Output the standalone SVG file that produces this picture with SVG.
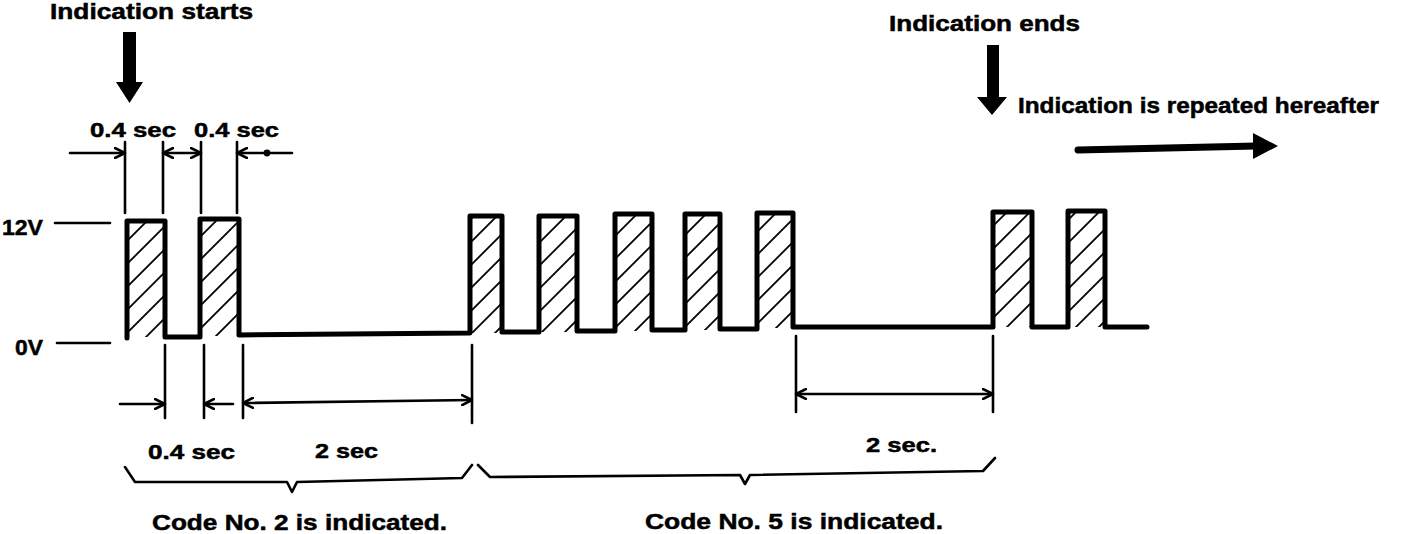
<svg xmlns="http://www.w3.org/2000/svg" width="1408" height="534" viewBox="0 0 1408 534">
<style>
text{font-family:"Liberation Sans",Arial,sans-serif;font-weight:bold;fill:#000;stroke:#000;stroke-width:0.5;}
.lbl{font-size:22px;}
.sm{font-size:20.5px;}
.wave{fill:none;stroke:#000;stroke-width:5;stroke-linejoin:round;stroke-linecap:round;}
.thin{fill:none;stroke:#000;stroke-width:2.6;stroke-linecap:round;}
.dim{fill:none;stroke:#000;stroke-width:2.6;stroke-linecap:round;stroke-linejoin:round;}
.hat{fill:url(#hatch);stroke:none;}
</style>
<defs>
<pattern id="hatch" patternUnits="userSpaceOnUse" width="23" height="23">
<path d="M-2,25 L25,-2 M-13.5,13.5 L13.5,-13.5 M9.5,36.5 L36.5,9.5" stroke="#000" stroke-width="1.8"/>
</pattern>
<marker id="oa" viewBox="0 0 12 12" refX="11" refY="6" markerWidth="12" markerHeight="12" markerUnits="userSpaceOnUse" orient="auto-start-reverse">
<path d="M0,0.5 L11,6 L0,11.5" fill="none" stroke="#000" stroke-width="2.6"/>
</marker>
</defs>

<g id="title-start">
<text class="lbl" x="50" y="19" textLength="203" lengthAdjust="spacingAndGlyphs">Indication starts</text>
<polygon points="123,32 136,32 136,82 143,82 129.5,103 116,82 123,82" fill="#000"/>
</g>

<g id="title-end">
<text class="lbl" x="889" y="31" textLength="191" lengthAdjust="spacingAndGlyphs">Indication ends</text>
<polygon points="987,45 999,45 999,97 1007,97 992,115 977,97 987,97" fill="#000"/>
</g>

<g id="repeat">
<text class="lbl" x="1018" y="113" textLength="361" lengthAdjust="spacingAndGlyphs">Indication is repeated hereafter</text>
<path d="M1078,150 L1256,146" stroke="#000" stroke-width="7" stroke-linecap="round" fill="none"/>
<polygon points="1253,133 1278,146 1253,159" fill="#000"/>
</g>

<g id="levels">
<text class="lbl" x="2" y="235" textLength="41" lengthAdjust="spacingAndGlyphs">12V</text>
<line class="thin" x1="55" y1="223" x2="110" y2="223"/>
<text class="lbl" x="15" y="355" textLength="28" lengthAdjust="spacingAndGlyphs">0V</text>
<line class="thin" x1="57" y1="343" x2="110" y2="343"/>
</g>

<g id="pulses">
<rect class="hat" x="127" y="221" width="38" height="116"/>
<rect class="hat" x="200" y="219" width="39" height="117"/>
<rect class="hat" x="470" y="216" width="32" height="117"/>
<rect class="hat" x="539" y="216" width="38" height="116"/>
<rect class="hat" x="615" y="214" width="37" height="117"/>
<rect class="hat" x="685" y="214" width="35" height="116"/>
<rect class="hat" x="757" y="213" width="36" height="115"/>
<rect class="hat" x="993" y="212" width="39" height="115"/>
<rect class="hat" x="1068" y="211" width="37" height="116"/>
<path class="wave" d="M127,338 L127,221 L165,221 L165,337 L200,337 L200,219 L239,219 L239,335 L470,333 L470,216 L502,216 L502,332 L539,332 L539,216 L577,216 L577,331 L615,331 L615,214 L652,214 L652,330 L685,330 L685,214 L720,214 L720,329 L757,329 L757,213 L793,213 L793,327 L993,327 L993,212 L1032,212 L1032,327 L1068,327 L1068,211 L1105,211 L1105,327 L1147,327"/>
</g>

<g id="top-dimensions">
<line class="thin" x1="125" y1="142" x2="125" y2="213"/>
<line class="thin" x1="163" y1="142" x2="163" y2="213"/>
<line class="thin" x1="201" y1="142" x2="201" y2="213"/>
<line class="thin" x1="237" y1="142" x2="237" y2="213"/>
<text class="sm" x="90" y="137" textLength="86" lengthAdjust="spacingAndGlyphs">0.4 sec</text>
<text class="sm" x="194" y="137" textLength="85" lengthAdjust="spacingAndGlyphs">0.4 sec</text>
</g>

<g id="bottom-dimensions">
<line class="thin" x1="165" y1="345" x2="165" y2="418"/>
<line class="thin" x1="204" y1="345" x2="204" y2="418"/>
<line class="thin" x1="243" y1="345" x2="243" y2="418"/>
<line class="thin" x1="472" y1="345" x2="472" y2="423"/>
<line class="thin" x1="796" y1="336" x2="796" y2="412"/>
<line class="thin" x1="993" y1="336" x2="993" y2="412"/>
<text class="sm" x="148" y="459" textLength="87" lengthAdjust="spacingAndGlyphs">0.4 sec</text>
<text class="sm" x="315" y="458" textLength="63" lengthAdjust="spacingAndGlyphs">2 sec</text>
<text class="sm" x="866" y="452" textLength="71" lengthAdjust="spacingAndGlyphs">2 sec.</text>
</g>

<g id="connectors">
<line class="dim" x1="70" y1="153" x2="125" y2="153" marker-end="url(#oa)"/>
<line class="dim" x1="163" y1="153" x2="201" y2="153" marker-start="url(#oa)" marker-end="url(#oa)"/>
<line class="dim" x1="292" y1="153" x2="237" y2="153" marker-end="url(#oa)"/>
<circle cx="267" cy="153" r="3.4" fill="#000"/>
<line class="dim" x1="120" y1="404" x2="165" y2="404" marker-end="url(#oa)"/>
<line class="dim" x1="233" y1="404" x2="204" y2="404" marker-end="url(#oa)"/>
<line class="dim" x1="243" y1="403" x2="472" y2="400" marker-start="url(#oa)" marker-end="url(#oa)"/>
<line class="dim" x1="796" y1="394" x2="993" y2="394" marker-start="url(#oa)" marker-end="url(#oa)"/>
</g>

<g id="brace-code2">
<path class="dim" d="M125,467 L135,482 L287,482 L292,492 L297,482 L462,478 L472,465"/>
<text class="lbl" x="152" y="530" textLength="295" lengthAdjust="spacingAndGlyphs">Code No. 2 is indicated.</text>
</g>

<g id="brace-code5">
<path class="dim" d="M478,465 L490,477 L740,475 L745,484 L750,475 L983,471 L995,458"/>
<text class="lbl" x="645" y="529" textLength="298" lengthAdjust="spacingAndGlyphs">Code No. 5 is indicated.</text>
</g>
</svg>
